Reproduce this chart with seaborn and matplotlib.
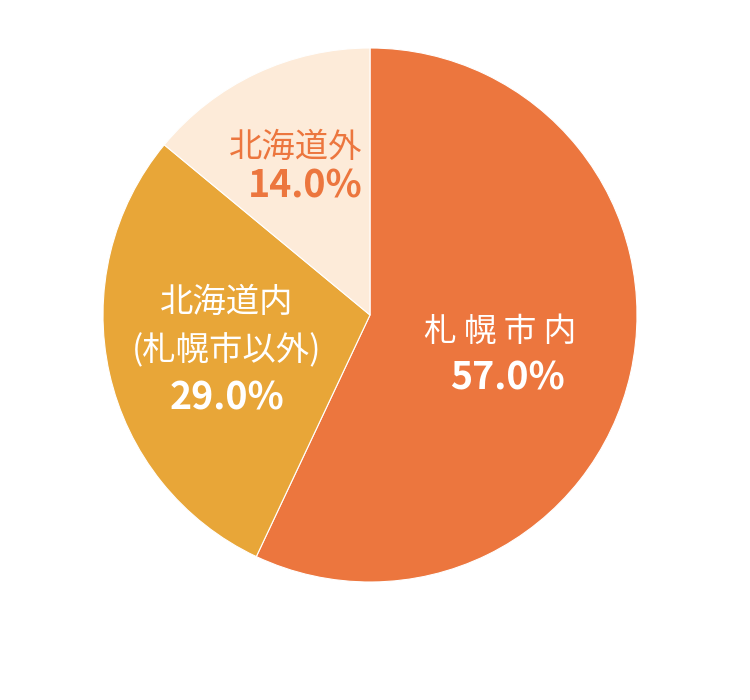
import matplotlib
matplotlib.use("Agg")
import matplotlib.pyplot as plt
import seaborn as sns

categories = ["札 幌 市 内", "北海道内\n(札幌市以外)", "北海道外"]
values = [57.0, 29.0, 14.0]
pct_labels = ["57.0%", "29.0%", "14.0%"]
colors = ["#EC763E", "#E8A638", "#FDEBD9"]
text_colors = ["white", "white", "#EC763E"]

sns.set_theme(style="white")
plt.rcParams['font.family'] = ['Noto Sans CJK JP', 'DejaVu Sans']

W, H = 750, 700
fig = plt.figure(figsize=(W / 100, H / 100), dpi=100)
cx, cy, r = 370, 315, 267
ax = fig.add_axes([(cx - r) / W, (H - (cy + r)) / H, 2 * r / W, 2 * r / H])
ax.pie(values, colors=colors, startangle=90, counterclock=False,
       wedgeprops=dict(edgecolor="white", linewidth=0.8), radius=1.0)
ax.set_xlim(-1, 1)
ax.set_ylim(-1, 1)
ax.set_aspect("equal")
ax.axis("off")

def to_data(px, py):
    return (px - cx) / r, (cy - py) / r

name_pos = [(500, 332), (227, 327), (296, 147)]
pct_pos = [(507, 378), (227, 398), (305, 186)]
name_sizes = [23.5, 24, 24]

for i in range(3):
    x, y = to_data(*name_pos[i])
    ax.text(x, y, categories[i], ha="center", va="center", color=text_colors[i],
            fontsize=name_sizes[i], linespacing=1.5, clip_on=False)
    x, y = to_data(*pct_pos[i])
    ax.text(x, y, pct_labels[i], ha="center", va="center", color=text_colors[i],
            fontsize=27, fontweight="bold", clip_on=False)

fig.savefig("out.png", dpi=100, facecolor="white")
